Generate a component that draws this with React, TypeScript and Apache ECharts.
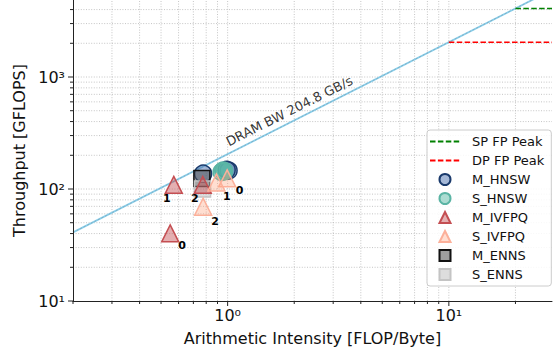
import { useEffect, useRef } from "react";
import * as echarts from "echarts";

// ---- axis ranges and roofline parameters ----
const X_MIN = 0.2;
const X_MAX = 29.26;
const Y_MIN = 10;
const Y_MAX = 4870;
const DRAM_BW = 204.8;
const SP_PEAK = 4096;
const DP_PEAK = 2048;
const BW_LABEL = "DRAM BW 204.8 GB/s";
const BW_LABEL_POS = [1.9, 497];

// ---- tick values (log axes, decades + minor) ----
const xTickValues = [0.2, 0.3, 0.4, 0.5, 0.6, 0.7, 0.8, 0.9, 1, 2, 3, 4, 5, 6, 7, 8, 9, 10, 20];
const xMajorTicks = [1, 10];
const yTickValues = [10, 20, 30, 40, 50, 60, 70, 80, 90, 100, 200, 300, 400, 500, 600, 700, 800, 900, 1000, 2000, 3000, 4000];
const yMajorTicks = [10, 100, 1000];

// ---- measured points [arithmetic intensity, throughput] ----
const mHnsw = [[0.775, 137], [1.01, 146], [0.99, 148]];
const sHnsw = [[0.94, 142], [0.965, 144], [0.955, 146]];
const mIvfpq = [[0.55, 40.2], [0.571, 109], [0.772, 109]];
const sIvfpq = [[0.995, 124.6], [0.89, 114.3], [0.775, 69.5]];
const mEnns = [[0.765, 124]];
const sEnns = [[0.77, 100]];

// label offsets for the IVFPQ index annotations (style)
const mIvfpqLabelOffsets = [[12, 12.5], [-7, 14], [-8, 13.5]];
const sIvfpqLabelOffsets = [[12.5, 12], [10.5, 13.5], [12, 14.5]];

const FONT = "DejaVu Sans";
const SUP: Record<string, string> = { "-": "⁻", "0": "⁰", "1": "¹", "2": "²", "3": "³", "4": "⁴", "5": "⁵", "6": "⁶", "7": "⁷", "8": "⁸", "9": "⁹" };

const TRI_ICON = "path://M6,0L12,12L0,12Z";
const RECT_ICON = "path://M0,0L12,0L12,12L0,12Z";

function decadeLabel(v: number): string {
  const e = Math.log10(v);
  const r = Math.round(e);
  if (Math.abs(e - r) > 1e-6) return "";
  return "10" + String(r).split("").map((c) => SUP[c] || c).join("");
}

export default function App() {
  const ref = useRef<HTMLDivElement>(null);
  useEffect(() => {
    if (!ref.current) return;
    const chart = echarts.init(ref.current, undefined, { renderer: "svg" });

    const gridStyle = { stroke: "#b8b8b8", lineWidth: 0.8, lineDash: [1, 1.6] };
    const tickStyle = { stroke: "#222", lineWidth: 1 };

    const xTickSeries = {
      type: "custom",
      name: "xticks",
      z: 1,
      silent: true,
      encode: { x: 0, y: 1 },
      data: xTickValues.map((v) => [v, Y_MIN, xMajorTicks.includes(v) ? 1 : 0]),
      renderItem: (_p: any, api: any) => {
        const v = api.value(0);
        const major = api.value(2) === 1;
        const b = api.coord([v, Y_MIN]);
        const t = api.coord([v, Y_MAX]);
        const children: any[] = [];
        if (v !== X_MIN) {
          children.push({ type: "line", shape: { x1: b[0], y1: b[1], x2: t[0], y2: t[1] }, style: gridStyle });
        }
        children.push({ type: "line", shape: { x1: b[0], y1: b[1], x2: b[0], y2: b[1] + (major ? 5 : 3) }, style: tickStyle });
        return { type: "group", children };
      },
    };

    const yTickSeries = {
      type: "custom",
      name: "yticks",
      z: 1,
      silent: true,
      encode: { x: 0, y: 1 },
      data: yTickValues.map((v) => [X_MIN, v, yMajorTicks.includes(v) ? 1 : 0]),
      renderItem: (_p: any, api: any) => {
        const v = api.value(1);
        const major = api.value(2) === 1;
        const l = api.coord([X_MIN, v]);
        const r = api.coord([X_MAX, v]);
        const children: any[] = [];
        if (v !== Y_MIN) {
          children.push({ type: "line", shape: { x1: l[0], y1: l[1], x2: r[0], y2: r[1] }, style: gridStyle });
        }
        children.push({ type: "line", shape: { x1: l[0], y1: l[1], x2: l[0] - (major ? 5 : 3), y2: l[1] }, style: tickStyle });
        return { type: "group", children };
      },
    };

    const scatter = (name: string, data: any[], symbol: string, size: number, color: string, border: string, z: number) => ({
      type: "scatter",
      name,
      symbol,
      symbolSize: size,
      z,
      data,
      itemStyle: { color, borderColor: border, borderWidth: 1.5, opacity: 1 },
    });

    const ivfData = (pts: number[][], offs: number[][]) =>
      pts.map((p, i) => ({
        value: p,
        label: { show: true, position: "inside", offset: offs[i], formatter: String(i), fontSize: 11, fontWeight: "bold", color: "#000", fontFamily: FONT },
      }));

    const option: any = {
      animation: false,
      backgroundColor: "#fff",
      textStyle: { fontFamily: FONT },
      grid: { left: 73, right: 0, top: 0, bottom: 55, containLabel: false },
      xAxis: {
        type: "log",
        logBase: 10,
        min: X_MIN,
        max: X_MAX,
        z: 10,
        name: "Arithmetic Intensity [FLOP/Byte]",
        nameLocation: "middle",
        nameGap: 29,
        nameTextStyle: { fontSize: 16, color: "#111", fontFamily: FONT },
        axisLine: { show: true, lineStyle: { color: "#222", width: 1 } },
        axisTick: { show: false },
        splitLine: { show: false },
        minorTick: { show: false },
        axisLabel: { formatter: (v: number) => decadeLabel(v), fontSize: 16, color: "#111", margin: 6, fontFamily: FONT },
      },
      yAxis: {
        type: "log",
        logBase: 10,
        min: Y_MIN,
        max: Y_MAX,
        z: 10,
        name: "Throughput [GFLOPS]",
        nameLocation: "middle",
        nameGap: 46,
        nameTextStyle: { fontSize: 16, color: "#111", fontFamily: FONT },
        axisLine: { show: true, lineStyle: { color: "#222", width: 1 } },
        axisTick: { show: false },
        splitLine: { show: false },
        minorTick: { show: false },
        axisLabel: { formatter: (v: number) => decadeLabel(v), fontSize: 16, color: "#111", margin: 8, fontFamily: FONT },
      },
      legend: {
        data: [
          { name: "SP FP Peak", itemStyle: { opacity: 0 } },
          { name: "DP FP Peak", itemStyle: { opacity: 0 } },
          { name: "M_HNSW" },
          { name: "S_HNSW" },
          { name: "M_IVFPQ", icon: TRI_ICON },
          { name: "S_IVFPQ", icon: TRI_ICON },
          { name: "M_ENNS", icon: RECT_ICON },
          { name: "S_ENNS", icon: RECT_ICON },
        ],
        orient: "vertical",
        left: 427,
        top: 130,
        itemWidth: 30,
        itemHeight: 11,
        itemGap: 6,
        symbolKeepAspect: true,
        padding: [5, 7, 5, 2],
        backgroundColor: "rgba(255,255,255,0.85)",
        borderColor: "#cccccc",
        borderWidth: 1,
        borderRadius: 3,
        selectedMode: false,
        textStyle: { fontSize: 13, color: "#111", fontFamily: FONT, padding: [0, 0, 0, 7] },
      },
      series: [
        xTickSeries,
        yTickSeries,
        {
          type: "line",
          name: "DRAM BW",
          z: 2,
          symbol: "none",
          silent: true,
          data: [X_MIN, X_MAX].map((x) => [x, x * DRAM_BW]),
          lineStyle: { color: "#87ceeb", width: 1.8 },
        },
        {
          type: "line",
          name: "DRAM BW core",
          z: 2,
          symbol: "none",
          silent: true,
          data: [X_MIN, X_MAX].map((x) => [x, x * DRAM_BW]),
          lineStyle: { color: "#7d8d96", width: 0.7, type: [2, 2], opacity: 0.7 },
        },
        {
          type: "line",
          name: "SP FP Peak",
          z: 2,
          symbol: "none",
          data: [[SP_PEAK / DRAM_BW, SP_PEAK], [X_MAX, SP_PEAK]],
          lineStyle: { color: "#008000", width: 1.5, type: [5.5, 2.4] },
          itemStyle: { color: "#008000" },
        },
        {
          type: "line",
          name: "DP FP Peak",
          z: 2,
          symbol: "none",
          data: [[DP_PEAK / DRAM_BW, DP_PEAK], [X_MAX, DP_PEAK]],
          lineStyle: { color: "#ff0000", width: 1.5, type: [5.5, 2.4] },
          itemStyle: { color: "#ff0000" },
        },
        {
          type: "scatter",
          name: "bwlabel",
          z: 4,
          symbolSize: 0,
          silent: true,
          data: [BW_LABEL_POS],
          label: { show: true, position: "inside", formatter: BW_LABEL, rotate: 26.66, fontSize: 13, color: "#000", fontFamily: FONT },
        },
        scatter("M_HNSW", mHnsw, "circle", 17, "rgba(76,114,176,0.5)", "#1a3a6c", 3),
        scatter("S_HNSW", sHnsw, "circle", 17, "rgba(90,185,165,0.5)", "#5ab4a4", 3),
        scatter("M_ENNS", mEnns, "rect", 16, "rgba(80,80,80,0.55)", "#111111", 3),
        scatter("S_ENNS", sEnns, "rect", 16, "rgba(170,170,170,0.4)", "#c4c4c4", 3),
        scatter("M_IVFPQ", ivfData(mIvfpq, mIvfpqLabelOffsets), "triangle", 17, "rgba(196,78,82,0.45)", "#c44e52", 3),
        scatter("S_IVFPQ", ivfData(sIvfpq, sIvfpqLabelOffsets), "triangle", 17, "rgba(255,160,122,0.35)", "#fcb09a", 3),
      ],
    };

    chart.setOption(option);
    return () => chart.dispose();
  }, []);

  return <div ref={ref} style={{ position: "fixed", left: 0, top: 0, width: 555, height: 356 }} />;
}
